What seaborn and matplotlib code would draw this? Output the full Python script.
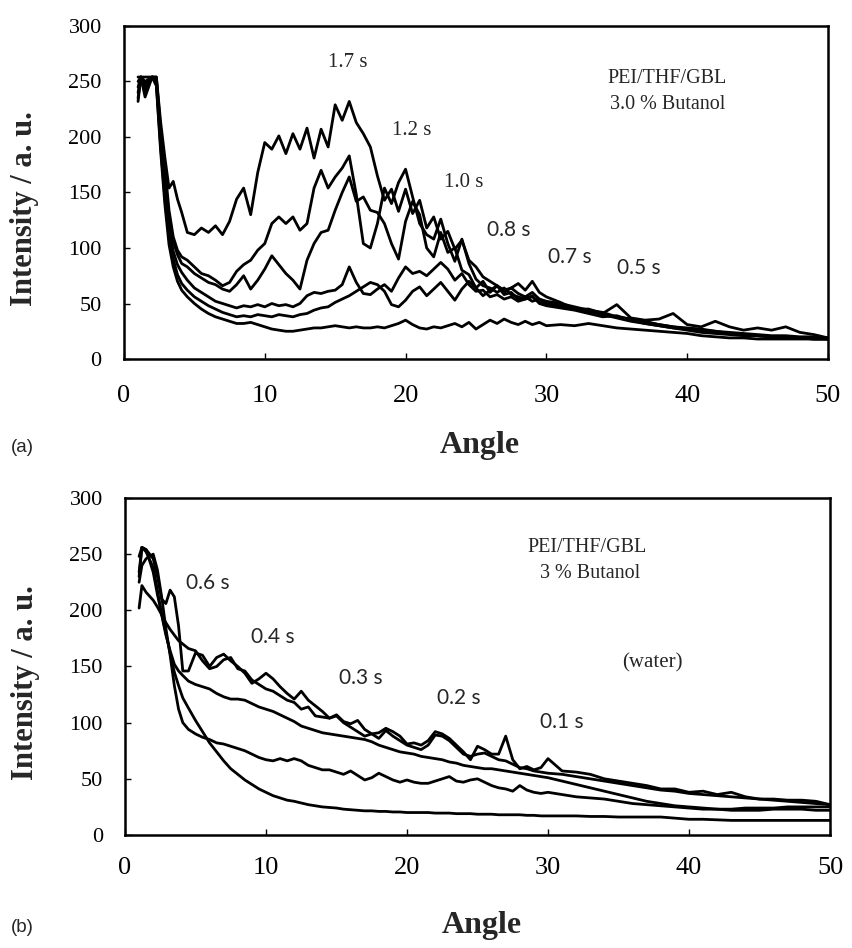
import numpy as np
import pandas as pd
import matplotlib
matplotlib.use("Agg")
import matplotlib.pyplot as plt
import seaborn as sns

# Sampling angles shared by all curves (dense at the start, coarser in the tail)
angle = np.concatenate([[1.0, 1.2, 1.5, 2.0, 2.3, 2.6, 2.9, 3.2, 3.5, 3.8, 4.1],
                        np.arange(4.5, 30.01, 0.5), np.arange(31, 51)])

# Panel (a): PEI/THF/GBL, 3.0 % butanol
a_17 = [232, 254, 254, 254, 254, 214, 182, 154, 160, 144, 132,
        114, 112, 118, 114, 120, 112, 124, 144, 154, 130, 168, 195,
        189, 201, 185, 203, 189, 208, 181, 207, 191, 229, 215, 232,
        213, 203, 191, 165, 143, 153, 133, 153, 131, 143, 118, 128,
        108, 115, 99, 107, 89, 83, 74, 70, 66, 62, 64, 59,
        56, 60, 54, 52,
        50, 47, 44, 42, 38, 36, 34, 31, 29, 28,
        27, 25, 24, 23, 22, 21, 21, 20, 20, 19]
a_12 = [250, 254, 240, 254, 254, 208, 174, 134, 110, 98, 92,
        89, 83, 77, 75, 71, 66, 69, 79, 85, 89, 98, 104,
        122, 128, 122, 128, 116, 122, 154, 170, 154, 164, 172, 183,
        148, 104, 100, 122, 154, 140, 159, 171, 146, 122, 112, 108,
        126, 104, 88, 108, 86, 72, 66, 64, 60, 64, 58, 56,
        54, 56, 51, 50,
        47, 45, 43, 40, 37, 34, 32, 30, 28, 27,
        26, 25, 23, 22, 21, 20, 20, 19, 19, 18]
a_10 = [240, 254, 236, 254, 252, 204, 164, 126, 106, 94, 86,
        83, 77, 73, 69, 67, 63, 61, 67, 75, 63, 71, 81,
        93, 85, 77, 71, 63, 89, 104, 114, 116, 134, 150, 164,
        142, 146, 134, 132, 122, 104, 90, 124, 142, 130, 100, 92,
        114, 96, 100, 80, 76, 64, 70, 60, 66, 58, 60, 54,
        56, 52, 54, 50,
        48, 46, 43, 40, 38, 36, 33, 31, 29, 27,
        26, 24, 23, 22, 21, 20, 20, 19, 18, 18]
a_08 = [254, 254, 248, 254, 250, 198, 154, 118, 97, 85, 78,
        71, 64, 60, 56, 52, 50, 48, 46, 48, 47, 49, 47,
        50, 48, 49, 47, 50, 57, 60, 59, 61, 62, 67, 83,
        69, 59, 58, 63, 67, 61, 73, 83, 77, 79, 75, 81,
        87, 81, 71, 77, 67, 61, 62, 56, 58, 54, 56, 52,
        54, 57, 50, 48,
        46, 44, 41, 38, 39, 35, 32, 30, 28, 26,
        24, 23, 22, 21, 21, 20, 19, 19, 18, 18]
a_07 = [245, 254, 250, 254, 248, 192, 146, 110, 90, 76, 68,
        62, 56, 52, 48, 45, 42, 40, 38, 39, 38, 40, 39,
        38, 40, 39, 38, 40, 41, 44, 46, 47, 51, 54, 57,
        61, 65, 69, 67, 61, 49, 47, 53, 61, 65, 57, 63,
        69, 61, 53, 63, 70, 64, 57, 62, 66, 60, 64, 68,
        62, 70, 60, 56,
        51, 45, 45, 41, 49, 37, 35, 36, 41, 31,
        29, 34, 29, 26, 28, 26, 29, 24, 22, 19]
a_05 = [235, 254, 244, 254, 246, 188, 140, 103, 83, 70, 62,
        56, 50, 45, 41, 38, 36, 34, 32, 32, 33, 31, 29,
        27, 26, 25, 25, 26, 27, 28, 28, 29, 30, 29, 28,
        29, 28, 28, 29, 28, 30, 32, 35, 31, 28, 27, 29,
        28, 30, 32, 29, 33, 27, 31, 35, 32, 36, 33, 31,
        34, 31, 33, 30,
        31, 30, 32, 30, 28, 27, 26, 25, 24, 23,
        21, 20, 19, 19, 18, 18, 18, 18, 18, 18]

# Panel (b): PEI/THF/GBL, 3 % butanol
b_1 = [230, 256, 254, 246, 230, 210, 206, 218, 212, 186, 146,
       146, 162, 160, 150, 158, 161, 155, 150, 144, 135, 139, 144,
       139, 132, 126, 121, 128, 120, 115, 110, 104, 107, 101, 99,
       102, 94, 90, 91, 95, 92, 88, 81, 82, 80, 84, 92,
       90, 86, 80, 74, 67, 79, 76, 72, 72, 88, 67, 59,
       61, 58, 60, 68,
       57, 56, 54, 50, 48, 46, 44, 41, 41, 38,
       39, 36, 38, 34, 32, 32, 31, 31, 30, 27]
b_2 = [202, 222, 216, 209, 203, 196, 189, 183, 178, 173, 170,
       166, 164, 155, 148, 150, 156, 158, 148, 146, 138, 134, 130,
       128, 124, 120, 118, 112, 114, 106, 105, 104, 106, 100, 96,
       92, 88, 90, 86, 93, 88, 84, 80, 78, 76, 80, 89,
       88, 84, 78, 72, 70, 72, 73, 70, 67, 66, 63, 60,
       59, 57, 56, 55,
       54, 52, 50, 48, 46, 44, 42, 40, 39, 37,
       36, 35, 34, 33, 32, 31, 30, 29, 28, 27]
b_3 = [248, 256, 252, 238, 218, 196, 178, 164, 152, 146, 142,
       137, 134, 132, 130, 126, 123, 121, 121, 120, 117, 114, 112,
       110, 107, 104, 101, 97, 95, 93, 91, 90, 89, 88, 87,
       86, 85, 83, 80, 78, 76, 74, 73, 72, 70, 69, 68,
       67, 65, 64, 62, 61, 60, 59, 59, 58, 57, 56, 55,
       54, 53, 52, 51,
       48, 45, 42, 39, 36, 33, 30, 28, 26, 25,
       24, 23, 23, 24, 24, 24, 25, 25, 25, 25]
b_4 = [225, 240, 246, 250, 236, 212, 184, 160, 133, 112, 100,
       94, 90, 87, 85, 82, 81, 79, 77, 75, 72, 69, 67,
       66, 68, 66, 68, 66, 62, 60, 58, 58, 56, 54, 57,
       53, 49, 51, 55, 52, 49, 47, 49, 47, 46, 46, 48,
       50, 52, 48, 47, 49, 50, 47, 44, 42, 41, 39, 44,
       40, 38, 37, 38,
       36, 34, 33, 32, 30, 28, 27, 26, 25, 24,
       23, 23, 22, 22, 22, 23, 23, 23, 22, 22]
b_water = [234, 256, 254, 234, 214, 197, 180, 162, 145, 133, 122,
           113, 102, 92, 82, 74, 66, 59, 54, 49, 45, 41, 38,
           35, 33, 31, 30, 28.5, 27, 26, 25, 24.5, 24, 23, 22.5,
           22, 21.5, 21.5, 21, 21, 20.5, 20.5, 20, 20, 20, 20, 19.5,
           19.5, 19.5, 19, 19, 19, 18.5, 18.5, 18.5, 18, 18, 18, 18,
           17.5, 17.5, 17, 17,
           17, 17, 16.5, 16.5, 16, 16, 16, 16, 15, 14,
           14, 13.5, 13, 13, 13, 13, 13, 13, 13, 13]

curves_a = {"1.7 s": a_17, "1.2 s": a_12, "1.0 s": a_10,
            "0.8 s": a_08, "0.7 s": a_07, "0.5 s": a_05}
curves_b = {"0.6 s": b_1, "0.4 s": b_2, "0.3 s": b_3,
            "0.1 s": b_4, "water": b_water}

# Curve labels and where they sit (data coordinates)
labels_a = [("1.7 s", 15.9, 267, "serif"), ("1.2 s", 20.4, 206, "serif"),
            ("1.0 s", 24.1, 159, "serif"), ("0.8 s", 27.3, 116, "sans"),
            ("0.7 s", 31.7, 92, "sans"), ("0.5 s", 36.6, 82, "sans")]
labels_b = [("0.6 s", 5.9, 224, "sans"), ("0.4 s", 10.5, 176, "sans"),
            ("0.3 s", 16.7, 140, "sans"), ("0.2 s", 23.7, 122, "sans"),
            ("0.1 s", 31.0, 101, "sans"), ("(water)", 37.4, 153, "serif")]


def long_form(curves):
    frames = [pd.DataFrame({"angle": angle, "intensity": vals, "curve": name})
              for name, vals in curves.items()]
    return pd.concat(frames, ignore_index=True)


sns.set_style("ticks")
plt.rcParams["font.family"] = ["Liberation Serif", "DejaVu Serif"]
plt.rcParams["axes.linewidth"] = 1.8

fig = plt.figure(figsize=(8.52, 9.48), dpi=100)
ax_a = fig.add_axes([0.1455, 0.6213, 0.8263, 0.3513])
ax_b = fig.add_axes([0.1467, 0.1192, 0.8275, 0.3555])

sans = ["Lato", "DejaVu Sans"]
serif = ["Liberation Serif", "DejaVu Serif"]

for ax, curves, labels, pad, xl_y in [(ax_a, curves_a, labels_a, 19, -0.261),
                                      (ax_b, curves_b, labels_b, 16, -0.27)]:
    sns.lineplot(data=long_form(curves), x="angle", y="intensity", units="curve",
                 estimator=None, color="black", linewidth=2.0, ax=ax, legend=False)
    ax.set_xlim(0, 50)
    ax.set_ylim(0, 300)
    ax.set_xticks([0, 10, 20, 30, 40, 50])
    ax.set_yticks([0, 50, 100, 150, 200, 250, 300])
    ax.tick_params(axis="both", direction="in", length=4, width=1, colors="black")
    ax.tick_params(axis="x", labelsize=19, pad=pad)
    ax.tick_params(axis="y", labelsize=16, pad=16)
    for sp in ax.spines.values():
        sp.set_visible(True)
        sp.set_color("black")
    ax.set_xlabel("Angle", fontsize=23, fontweight="bold", va="center")
    ax.xaxis.set_label_coords(0.506, xl_y)
    ax.set_ylabel("Intensity / a. u.", fontsize=22, fontweight="bold", va="center")
    ax.yaxis.set_label_coords(-0.141, 0.453)
    for text, x, y, fam in labels:
        ax.text(x, y, text, ha="center", va="center", fontsize=15,
                family=sans if fam == "sans" else serif)

ax_a.text(38.6, 253, "PEI/THF/GBL", ha="center", va="center", fontsize=14.5, family=serif)
ax_a.text(38.6, 229, "3.0 % Butanol", ha="center", va="center", fontsize=14.5, family=serif)
ax_b.text(32.8, 256, "PEI/THF/GBL", ha="center", va="center", fontsize=14.5, family=serif)
ax_b.text(33.0, 233, "3 % Butanol", ha="center", va="center", fontsize=14.5, family=serif)

fig.text(0.026, 0.528, "(a)", ha="center", va="center", fontsize=13.5, family=["Liberation Sans"])
fig.text(0.026, 0.022, "(b)", ha="center", va="center", fontsize=13.5, family=["Liberation Sans"])

fig.savefig("out.png", dpi=100)
